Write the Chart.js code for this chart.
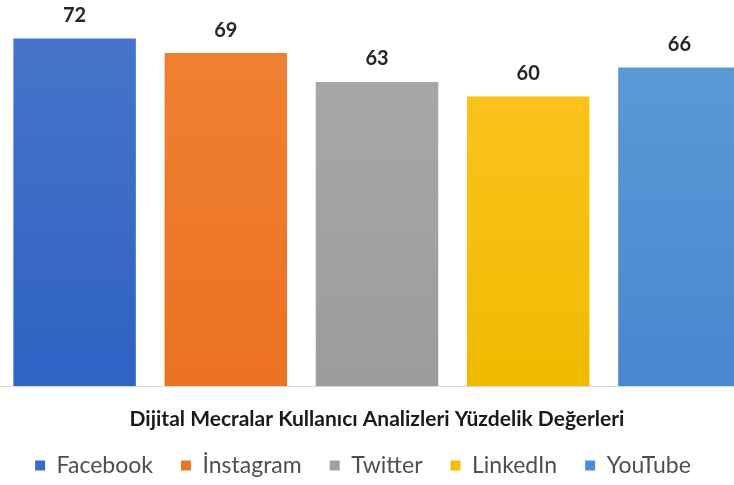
<!DOCTYPE html>
<html lang="tr">
<head>
  <meta charset="UTF-8" />
  <title>Dijital Mecralar</title>
  <script src="https://cdn.jsdelivr.net/npm/chart.js"></script>
  <style>
    html, body {
      margin: 0;
      padding: 0;
      background: #fff;
      overflow: hidden;
      width: 734px;
      height: 485px;
    }
    .chart-wrap {
      position: absolute;
      left: -1px;
      top: 0;
      width: 756px;
      height: 485px;
    }
  </style>
</head>
<body>
  <div class="chart-wrap">
    <canvas id="platformChart"></canvas>
  </div>

  <script>
    const platforms = ['Facebook', 'İnstagram', 'Twitter', 'LinkedIn', 'YouTube'];
    const usage = [72, 69, 63, 60, 66];
    const chartTitle = 'Dijital Mecralar Kullanıcı Analizleri Yüzdelik Değerleri';

    // top / bottom shades of each bar, plus the flat legend swatch
    const topColors = ['#4876ca', '#f08236', '#aaaaaa', '#ffc525', '#5e9dd8'];
    const bottomColors = ['#2f62c3', '#eb7220', '#9c9c9c', '#f0ba00', '#4787cf'];
    const swatchColors = ['#3b6acb', '#ee7426', '#a0a0a0', '#f5bf00', '#4a8fd3'];

    const fontFamily = 'Lato, "Noto Sans", sans-serif';

    function barGradient(i) {
      return function (context) {
        const area = context.chart.chartArea;
        if (!area) return swatchColors[i];
        const g = context.chart.ctx.createLinearGradient(0, area.top, 0, area.bottom);
        g.addColorStop(0, topColors[i]);
        g.addColorStop(1, bottomColors[i]);
        return g;
      };
    }

    const datasets = platforms.map((name, i) => ({
      label: name,
      data: platforms.map((p, j) => (j === i ? usage[i] : null)),
      backgroundColor: barGradient(i),
      borderWidth: 0,
      barPercentage: 0.81,
      categoryPercentage: 1
    }));

    // value labels above the bars
    const valueLabels = {
      id: 'valueLabels',
      afterDatasetsDraw(chart) {
        const ctx = chart.ctx;
        ctx.save();
        ctx.font = 'bold 20px ' + fontFamily;
        ctx.fillStyle = '#262626';
        ctx.textAlign = 'center';
        ctx.textBaseline = 'middle';
        chart.data.datasets.forEach((ds, i) => {
          const meta = chart.getDatasetMeta(i);
          meta.data.forEach((bar, j) => {
            if (ds.data[j] == null) return;
            ctx.fillText(ds.data[j], bar.x, bar.y - 23);
          });
        });
        ctx.restore();
      }
    };

    // faint base line under the bars
    const baseLine = {
      id: 'baseLine',
      beforeDatasetsDraw(chart) {
        const a = chart.chartArea;
        const ctx = chart.ctx;
        ctx.save();
        ctx.strokeStyle = '#d9d9d9';
        ctx.lineWidth = 1;
        ctx.beginPath();
        ctx.moveTo(a.left, a.bottom + 0.5);
        ctx.lineTo(a.right, a.bottom + 0.5);
        ctx.stroke();
        ctx.restore();
      }
    };

    // the canvas runs past the right edge, so nudge the legend back to the visible middle
    const legendNudge = {
      id: 'legendNudge',
      afterLayout(chart) {
        const lg = chart.legend;
        if (!lg) return;
        lg.left -= 14;
        lg.right -= 14;
        lg.top += 2;
        lg.bottom += 2;
      }
    };

    new Chart(document.getElementById('platformChart'), {
      type: 'bar',
      data: { labels: platforms, datasets: datasets },
      options: {
        responsive: true,
        maintainAspectRatio: false,
        animation: false,
        layout: { padding: 0 },
        datasets: { bar: { grouped: false } },
        scales: {
          x: { display: false },
          y: { display: false, min: 0, max: 80 }
        },
        plugins: {
          tooltip: { enabled: false },
          title: {
            display: true,
            text: chartTitle,
            position: 'bottom',
            weight: 500,
            color: '#1a1a1a',
            font: { family: fontFamily, size: 21, weight: 'bold' },
            padding: { top: 20.4, bottom: -7.6 }
          },
          legend: {
            position: 'bottom',
            labels: {
              color: '#4f4f4f',
              font: { family: fontFamily, size: 23 },
              boxWidth: 10,
              boxHeight: 10,
              padding: 28,
              generateLabels(chart) {
                return platforms.map((name, i) => ({
                  text: name,
                  fillStyle: swatchColors[i],
                  strokeStyle: swatchColors[i],
                  lineWidth: 0,
                  fontColor: '#4f4f4f',
                  datasetIndex: i
                }));
              }
            }
          }
        }
      },
      plugins: [valueLabels, baseLine, legendNudge]
    });
  </script>
</body>
</html>
